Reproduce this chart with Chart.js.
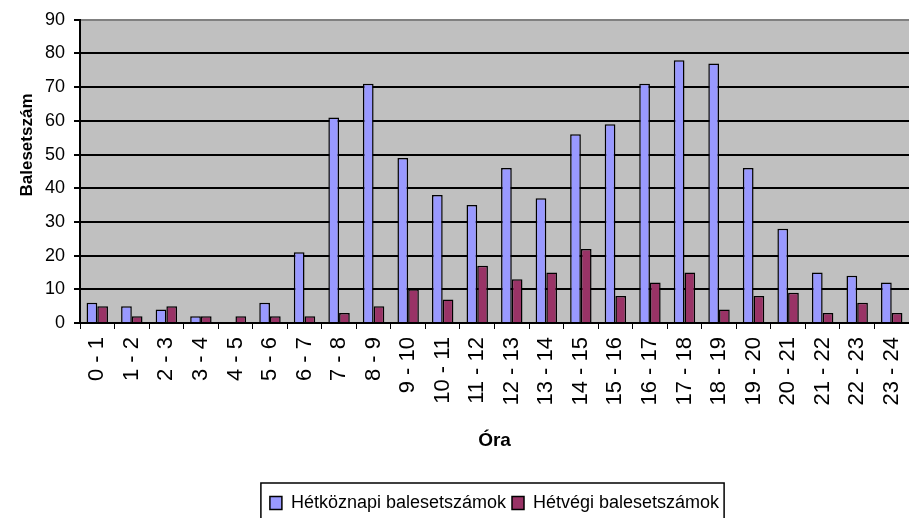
<!DOCTYPE html>
<html>
<head>
<meta charset="utf-8">
<script src="https://cdn.jsdelivr.net/npm/chart.js@4"></script>
<style>
  html, body { margin: 0; padding: 0; background: #fff; }
  #wrap { width: 909px; height: 518px; position: relative; }
</style>
</head>
<body>
<div id="wrap"><canvas id="accChart"></canvas></div>
<script>
const hours = ["0 - 1", "1 - 2", "2 - 3", "3 - 4", "4 - 5", "5 - 6", "6 - 7", "7 - 8",
  "8 - 9", "9 - 10", "10 - 11", "11 - 12", "12 - 13", "13 - 14", "14 - 15", "15 - 16",
  "16 - 17", "17 - 18", "18 - 19", "19 - 20", "20 - 21", "21 - 22", "22 - 23", "23 - 24"];
const weekday = [6, 5, 4, 2, 0, 6, 21, 61, 71, 49, 38, 35, 46, 37, 56, 59, 71, 78, 77, 46, 28, 15, 14, 12];
const weekend = [5, 2, 5, 2, 2, 2, 2, 3, 5, 10, 7, 17, 13, 15, 22, 8, 12, 15, 4, 8, 9, 3, 6, 3];
const yMin = 0, yMax = 90, yStep = 10;

Chart.defaults.font.family = "'Liberation Sans', Arial, sans-serif";
Chart.defaults.color = "#000";

// grey plot area, legend frame and the y title
const excelLook = {
  id: "excelLook",
  beforeDraw(chart) {
    const {ctx, chartArea: a} = chart;
    ctx.save();
    ctx.fillStyle = "#c0c0c0";
    ctx.fillRect(a.left, a.top, a.right - a.left, a.bottom - a.top);
    ctx.restore();
  },
  afterDraw(chart) {
    const {ctx} = chart;
    const lg = chart.legend;
    const boxes = lg.legendHitBoxes;
    if (boxes && boxes.length) {
      const last = boxes[boxes.length - 1];
      const x0 = boxes[0].left - 9;
      const x1 = last.left + last.width + 5;
      ctx.save();
      ctx.strokeStyle = "#000";
      ctx.lineWidth = 1.5;
      ctx.strokeRect(x0, lg.top - 5, x1 - x0, 60);
      ctx.restore();
    }
    ctx.save();
    ctx.translate(27, 145);
    ctx.rotate(-Math.PI / 2);
    ctx.font = "bold 17px 'Liberation Sans', Arial, sans-serif";
    ctx.fillStyle = "#000";
    ctx.textAlign = "center";
    ctx.textBaseline = "middle";
    ctx.fillText("Balesetszám", 0, 0);
    ctx.restore();
  }
};

new Chart(document.getElementById("accChart"), {
  type: "bar",
  data: {
    labels: hours,
    datasets: [{
      label: "Hétköznapi balesetszámok",
      data: weekday,
      backgroundColor: "#9999ff",
      borderColor: "#000",
      borderWidth: 1.5
    }, {
      label: "Hétvégi balesetszámok",
      data: weekend,
      backgroundColor: "#993366",
      borderColor: "#000",
      borderWidth: 1.5
    }]
  },
  options: {
    responsive: true,
    maintainAspectRatio: false,
    animation: false,
    categoryPercentage: 0.62,
    barPercentage: 1,
    layout: { padding: { top: 17, right: -6, bottom: -4, left: 0 } },
    plugins: {
      tooltip: { enabled: false },
      legend: {
        position: "bottom",
        fullSize: false,
        labels: {
          boxWidth: 12,
          boxHeight: 13,
          padding: 6,
          color: "#000",
          font: { size: 18 }
        }
      }
    },
    scales: {
      x: {
        afterFit: s => { s.height = 165; s.paddingLeft = 0; s.paddingRight = 0; },
        grid: {
          offset: true,
          drawOnChartArea: false,
          color: "#000",
          tickLength: 6,
          lineWidth: 1
        },
        border: { color: "#000", width: 2 },
        ticks: {
          autoSkip: false,
          minRotation: 90,
          maxRotation: 90,
          padding: 8,
          color: "#000",
          font: { size: 22 }
        },
        title: {
          display: true,
          text: "Óra",
          color: "#000",
          font: { size: 19, weight: "bold" },
          padding: { top: 0, bottom: 36 }
        }
      },
      y: {
        min: yMin,
        max: yMax,
        afterFit: s => { s.width = 80; },
        grid: {
          color: c => (c.tick && c.tick.value === yMax ? "#808080" : "#000"),
          tickColor: "#000",
          tickLength: 6,
          lineWidth: 2
        },
        border: { color: "#000", width: 2 },
        ticks: {
          stepSize: yStep,
          padding: 9,
          color: "#000",
          font: { size: 18 }
        }
      }
    }
  },
  plugins: [excelLook]
});
</script>
</body>
</html>
